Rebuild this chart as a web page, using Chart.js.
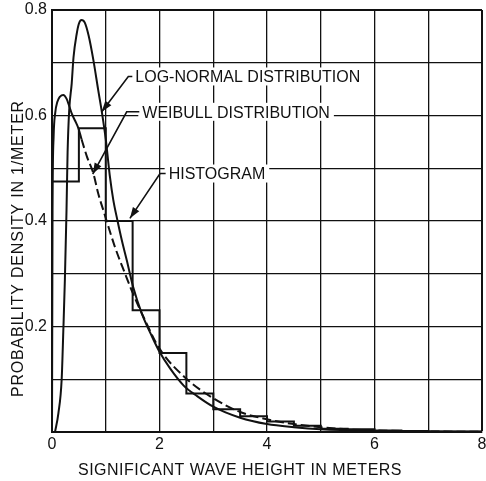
<!DOCTYPE html>
<html>
<head>
<meta charset="utf-8">
<script src="https://cdn.jsdelivr.net/npm/chart.js@4.4.1/dist/chart.umd.min.js"></script>
<style>
html,body{margin:0;padding:0;background:#fff;}
#wrap{width:486px;height:481px;}
</style>
</head>
<body>
<div id="wrap"><canvas id="c" width="486" height="481"></canvas></div>
<script>
// ---------- data ----------
const X_TITLE = 'SIGNIFICANT WAVE HEIGHT IN METERS';
const Y_TITLE = 'PROBABILITY DENSITY IN 1/METER';
const X_TICK_LABELS = [0, 2, 4, 6, 8];
const Y_TICK_LABELS = [0.2, 0.4, 0.6, 0.8];

// histogram: bin left edges (0.5 m wide) and heights
const HIST_EDGES = [0, 0.5, 1.0, 1.5, 2.0, 2.5, 3.0, 3.5, 4.0, 4.5, 5.0, 5.5, 6.0, 6.5, 7.0, 7.5];
const HIST_VALUES = [0.475, 0.576, 0.400, 0.231, 0.150, 0.073, 0.043, 0.030, 0.020, 0.012, 0.006, 0.005, 0.003, 0.002, 0.001, 0.001];

// log-normal distribution curve
const LOGNORMAL_X = [0.056, 0.118, 0.18, 0.21, 0.24, 0.27, 0.29, 0.32, 0.366, 0.40, 0.46, 0.50, 0.55, 0.61, 0.68, 0.77, 0.86, 0.93, 1.00, 1.08, 1.14, 1.22, 1.30, 1.39, 1.51, 1.67, 1.86, 2.0, 2.2, 2.45, 2.7, 3.0, 3.5, 4.0, 4.5, 5.0, 6.0, 7.0, 8.0];
const LOGNORMAL_Y = [0.0, 0.035, 0.10, 0.19, 0.29, 0.42, 0.53, 0.61, 0.66, 0.71, 0.755, 0.774, 0.781, 0.776, 0.752, 0.705, 0.648, 0.605, 0.555, 0.482, 0.44, 0.40, 0.363, 0.326, 0.275, 0.225, 0.181, 0.152, 0.12, 0.088, 0.068, 0.048, 0.027, 0.015, 0.009, 0.005, 0.002, 0.001, 0.0005];

// Weibull distribution curve (solid near the mode, dashed beyond)
const WEIBULL_X = [0, 0.01, 0.03, 0.06, 0.10, 0.15, 0.21, 0.27, 0.32, 0.37, 0.43, 0.49, 0.55, 0.65, 0.77, 0.86, 0.95, 1.02, 1.17, 1.36, 1.48, 1.73, 2.0, 2.5, 3.0, 3.5, 4.0, 4.5, 5.0, 5.5, 6.0, 7.0, 8.0];
const WEIBULL_Y = [0, 0.42, 0.56, 0.605, 0.626, 0.636, 0.639, 0.632, 0.618, 0.603, 0.59, 0.576, 0.555, 0.522, 0.49, 0.452, 0.422, 0.399, 0.351, 0.30, 0.269, 0.212, 0.158, 0.101, 0.064, 0.038, 0.024, 0.015, 0.009, 0.005, 0.003, 0.001, 0.0004];
const WEIBULL_DASH_FROM = 0.5;

// callouts: arrow tip, elbow, text start (data units)
const CALLOUT_TEXTS = ['LOG-NORMAL DISTRIBUTION', 'WEIBULL DISTRIBUTION', 'HISTOGRAM'];
const CALLOUT_TIPS = [[0.925, 0.607], [0.758, 0.489], [1.45, 0.405]];
const CALLOUT_ELBOWS = [[1.42, 0.674], [1.39, 0.607], [2.01, 0.49]];
const CALLOUT_TEXT_AT = [[1.55, 0.674], [1.68, 0.607], [2.17, 0.49]];

// ---------- build datasets ----------
const zip = (xs, ys) => xs.map((x, i) => ({x: x, y: ys[i]}));
const histPoints = [{x: 0, y: 0}].concat(zip(HIST_EDGES, HIST_VALUES));
histPoints.push({x: 8, y: HIST_VALUES[HIST_VALUES.length - 1]});

const FONT = "'Liberation Sans', Arial, sans-serif";
const INK = '#111';

const calloutPlugin = {
  id: 'callouts',
  afterDatasetsDraw(chart) {
    const ctx = chart.ctx, xs = chart.scales.x, ys = chart.scales.y;
    ctx.save();
    ctx.font = '16px ' + FONT;
    ctx.textBaseline = 'alphabetic';
    ctx.textAlign = 'left';
    CALLOUT_TEXTS.forEach((t, i) => {
      const tx = xs.getPixelForValue(CALLOUT_TEXT_AT[i][0]);
      const ty = ys.getPixelForValue(CALLOUT_TEXT_AT[i][1]);
      const ex = xs.getPixelForValue(CALLOUT_ELBOWS[i][0]);
      const ey = ys.getPixelForValue(CALLOUT_ELBOWS[i][1]);
      const px = xs.getPixelForValue(CALLOUT_TIPS[i][0]);
      const py = ys.getPixelForValue(CALLOUT_TIPS[i][1]);
      const w = ctx.measureText(t).width;
      // white box behind text
      ctx.fillStyle = '#fff';
      ctx.fillRect(tx - 4, ty - 9, w + 8, 18);
      ctx.fillStyle = INK;
      ctx.fillText(t, tx, ty + 5.8);
      // leader
      ctx.strokeStyle = INK;
      ctx.lineWidth = 1.6;
      ctx.beginPath();
      ctx.moveTo(tx - 3, ey);
      ctx.lineTo(ex, ey);
      ctx.lineTo(px, py);
      ctx.stroke();
      // arrow head
      const ang = Math.atan2(py - ey, px - ex);
      const L = 11, H = 3.8;
      ctx.beginPath();
      ctx.moveTo(px, py);
      ctx.lineTo(px - L * Math.cos(ang) + H * Math.sin(ang), py - L * Math.sin(ang) - H * Math.cos(ang));
      ctx.lineTo(px - L * Math.cos(ang) - H * Math.sin(ang), py - L * Math.sin(ang) + H * Math.cos(ang));
      ctx.closePath();
      ctx.fill();
    });
    ctx.restore();
  },
  afterDraw(chart) {
    const ctx = chart.ctx;
    ctx.save();
    ctx.fillStyle = INK;
    ctx.font = '16px ' + FONT;
    try { ctx.letterSpacing = '0.5px'; } catch (e) {}
    ctx.textAlign = 'center';
    ctx.textBaseline = 'alphabetic';
    ctx.fillText(X_TITLE, 240, 475);
    try { ctx.letterSpacing = '0.8px'; } catch (e) {}
    ctx.translate(23, 248.5);
    ctx.rotate(-Math.PI / 2);
    ctx.fillText(Y_TITLE, 0, 0);
    ctx.restore();
  }
};

const gridWidth = (max) => (c) => (c.tick && Math.abs(c.tick.value - max) < 1e-9) ? 2 : 1.3;

new Chart(document.getElementById('c'), {
  type: 'line',
  data: {
    datasets: [
      {
        label: 'Histogram',
        data: histPoints,
        stepped: 'before',
        borderColor: INK,
        borderWidth: 2,
        pointRadius: 0,
        fill: false
      },
      {
        label: 'Log-normal distribution',
        data: zip(LOGNORMAL_X, LOGNORMAL_Y),
        borderColor: INK,
        borderWidth: 2,
        pointRadius: 0,
        cubicInterpolationMode: 'monotone',
        fill: false
      },
      {
        label: 'Weibull distribution',
        data: zip(WEIBULL_X, WEIBULL_Y),
        borderColor: INK,
        borderWidth: 2,
        pointRadius: 0,
        cubicInterpolationMode: 'monotone',
        fill: false,
        segment: {
          borderDash: (c) => c.p0.parsed.x >= WEIBULL_DASH_FROM ? [9, 4] : undefined
        }
      }
    ]
  },
  options: {
    responsive: false,
    animation: false,
    devicePixelRatio: 1,
    layout: {padding: {top: 10, right: 4, left: 0, bottom: 0}},
    plugins: {legend: {display: false}, tooltip: {enabled: false}, title: {display: false}},
    scales: {
      x: {
        type: 'linear',
        min: 0, max: 8,
        afterFit(s) { s.height = 49; s.paddingLeft = 0; s.paddingRight = 0; },
        ticks: {
          stepSize: 1,
          padding: 3,
          color: INK,
          font: {family: FONT, size: 16},
          maxRotation: 0,
          autoSkip: false,
          callback: (v) => X_TICK_LABELS.includes(Math.round(v * 1000) / 1000) ? String(v) : ''
        },
        grid: {color: INK, lineWidth: gridWidth(8), drawTicks: false},
        border: {color: INK, width: 2}
      },
      y: {
        type: 'linear',
        min: 0, max: 0.8,
        afterFit(s) { s.width = 52; s.paddingTop = 0; s.paddingBottom = 0; },
        ticks: {
          stepSize: 0.1,
          padding: 5,
          color: INK,
          font: {family: FONT, size: 16},
          autoSkip: false,
          callback: (v) => {
            const r = Math.round(v * 10) / 10;
            return Y_TICK_LABELS.includes(r) ? r.toFixed(1) : '';
          }
        },
        grid: {color: INK, lineWidth: gridWidth(0.8), drawTicks: false},
        border: {color: INK, width: 2}
      }
    }
  },
  plugins: [calloutPlugin]
});
</script>
</body>
</html>
